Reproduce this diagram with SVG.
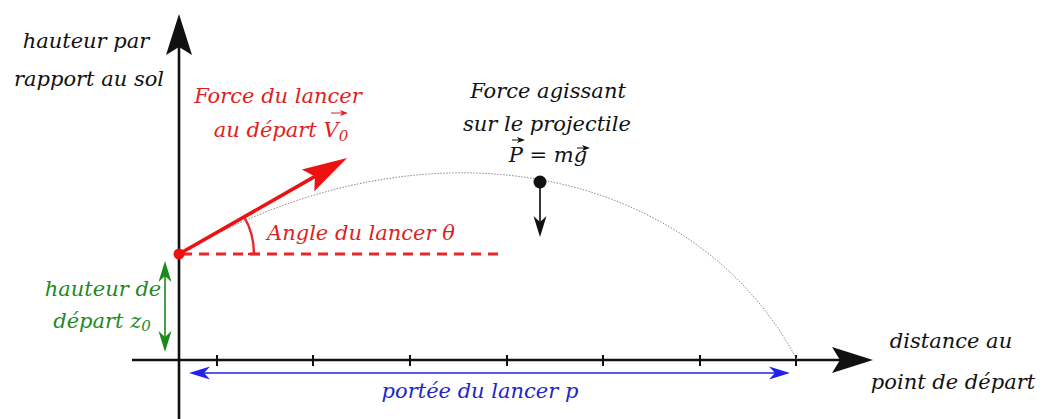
<svg xmlns="http://www.w3.org/2000/svg" width="1046" height="419" viewBox="0 0 1046 419">
<style>
text{font-family:"DejaVu Serif","Liberation Serif",serif;font-style:italic;font-size:21px;}
.c{text-anchor:middle;}
.k{fill:#111;}
.r{fill:#e01e22;}
.g{fill:#1e8a1e;}
.b{fill:#2424c8;}
.axis{stroke:#111;stroke-width:2.6;fill:none;}
.tick{stroke:#111;stroke-width:2;}
.traj{stroke:#8a8a8a;stroke-width:1;fill:none;stroke-dasharray:1.5 1.5;}
.vec{stroke:#111;stroke-width:1;fill:none;}
</style>
<defs>
<marker id="bigK" markerUnits="userSpaceOnUse" viewBox="-9 -14 44 28" markerWidth="44" markerHeight="28" refX="0" refY="0" orient="auto"><path d="M33,0 L-8,-13 L0,0 L-8,13 Z" fill="#111"/></marker>
<marker id="bigR" markerUnits="userSpaceOnUse" viewBox="-9 -14 48 28" markerWidth="48" markerHeight="28" refX="0" refY="0" orient="auto"><path d="M37,0 L-8,-12.5 L0,0 L-8,12.5 Z" fill="#ee1111"/></marker>
<marker id="smK" markerUnits="userSpaceOnUse" viewBox="-7 -8 24 16" markerWidth="24" markerHeight="16" refX="0" refY="0" orient="auto-start-reverse"><path d="M15,0 L-6,-6.5 L0,0 L-6,6.5 Z" fill="#111"/></marker>
<marker id="smB" markerUnits="userSpaceOnUse" viewBox="-7 -8 24 16" markerWidth="24" markerHeight="16" refX="0" refY="0" orient="auto-start-reverse"><path d="M15,0 L-6,-6.5 L0,0 L-6,6.5 Z" fill="#2222ee"/></marker>
<marker id="smG" markerUnits="userSpaceOnUse" viewBox="-7 -8 24 16" markerWidth="24" markerHeight="16" refX="0" refY="0" orient="auto-start-reverse"><path d="M15,0 L-6,-6.5 L0,0 L-6,6.5 Z" fill="#1a8a1a"/></marker>
<marker id="tinyK" markerUnits="userSpaceOnUse" viewBox="-4 -4 10 8" markerWidth="10" markerHeight="8" refX="0" refY="0" orient="auto"><path d="M5,0 L-3,-3 L-1,0 L-3,3 Z" fill="#111"/></marker>
<marker id="tinyR" markerUnits="userSpaceOnUse" viewBox="-4 -4 10 8" markerWidth="10" markerHeight="8" refX="0" refY="0" orient="auto"><path d="M5,0 L-3,-3 L-1,0 L-3,3 Z" fill="#e01e22"/></marker>
</defs>

<g id="connectors">
  <line class="axis" x1="179" y1="419" x2="179" y2="47" marker-end="url(#bigK)"/>
  <line class="axis" x1="132" y1="360" x2="840" y2="360" marker-end="url(#bigK)"/>
  <path class="tick" d="M217,355V366M313,355V366M410,355V366M507,355V366M603,355V366M700,355V366M796,355V366"/>
  <path class="traj" d="M179,254 C439,104 700,175 797,360"/>
  <line x1="182" y1="254" x2="500" y2="254" stroke="#e8262a" stroke-width="3" stroke-dasharray="10 7"/>
  <path d="M254,254 A75,75 0 0 0 244,216.5" fill="none" stroke="#e8262a" stroke-width="2.4"/>
  <path d="M248,254 H260" stroke="#e8262a" stroke-width="2.4"/>
  <line x1="179" y1="254" x2="315" y2="176.4" stroke="#ee1111" stroke-width="3.6" marker-end="url(#bigR)"/>
  <line x1="540" y1="182" x2="540" y2="222" stroke="#222" stroke-width="1.8" marker-end="url(#smK)"/>
  <line x1="165" y1="276" x2="165" y2="337" stroke="#1a8a1a" stroke-width="1.6" marker-start="url(#smG)" marker-end="url(#smG)"/>
  <line x1="204" y1="373" x2="775" y2="373" stroke="#2222ee" stroke-width="1.6" marker-start="url(#smB)" marker-end="url(#smB)"/>
</g>

<g id="launch-point"><circle cx="179" cy="254" r="5.5" fill="#ee1111"/></g>
<g id="projectile"><circle cx="540" cy="182" r="6.5" fill="#111"/></g>

<g id="y-axis-label">
  <text class="c k" x="86" y="48">hauteur par</text>
  <text class="c k" x="89" y="86">rapport au sol</text>
</g>

<g id="x-axis-label">
  <text class="c k" x="951" y="348">distance au</text>
  <text class="c k" x="953" y="389">point de départ</text>
</g>

<g id="launch-force-label">
  <text class="c r" x="278" y="103">Force du lancer</text>
  <text class="c r" x="281" y="137">au départ V<tspan font-size="15" dy="4">0</tspan></text>
  <line x1="331" y1="113" x2="343" y2="113" stroke="#e01e22" stroke-width="1" marker-end="url(#tinyR)"/>
</g>

<g id="angle-label">
  <text class="r" x="267" y="240">Angle du lancer θ</text>
</g>

<g id="gravity-label">
  <text class="c k" x="548" y="98">Force agissant</text>
  <text class="c k" x="547" y="131">sur le projectile</text>
  <text class="c k" x="548" y="162">P = mg</text>
  <line class="vec" x1="512" y1="140" x2="520" y2="140" marker-end="url(#tinyK)"/>
  <line class="vec" x1="577" y1="148" x2="585" y2="148" marker-end="url(#tinyK)"/>
</g>

<g id="height-label">
  <text class="c g" x="103" y="296">hauteur de</text>
  <text class="c g" x="102" y="328">départ z<tspan font-size="15" dy="3">0</tspan></text>
</g>

<g id="range-label">
  <text class="c b" x="480" y="398">portée du lancer p</text>
</g>
</svg>
